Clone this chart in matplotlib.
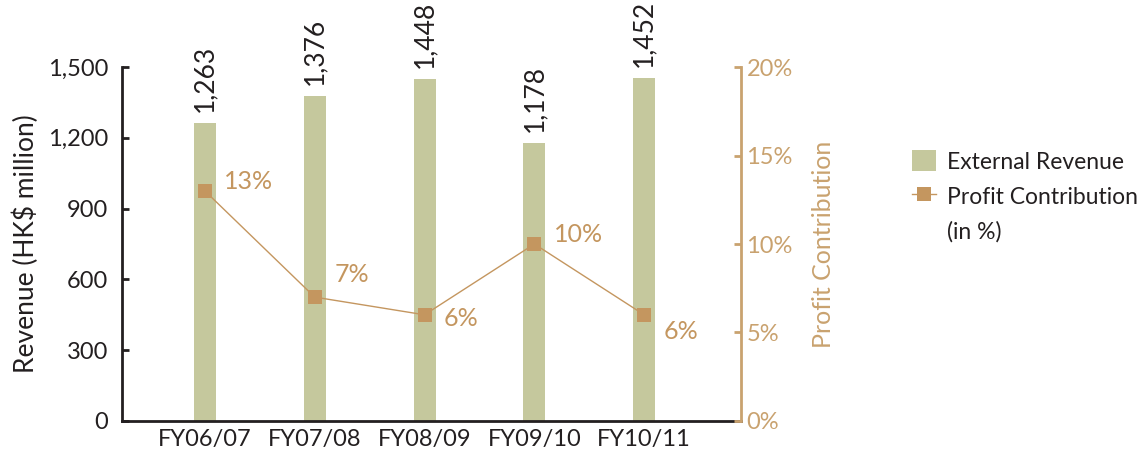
import matplotlib.pyplot as plt
from matplotlib.lines import Line2D
from matplotlib.ticker import FuncFormatter

plt.rcParams['font.family'] = ['Lato', 'DejaVu Sans']

years = ["FY06/07", "FY07/08", "FY08/09", "FY09/10", "FY10/11"]
revenue = [1263, 1376, 1448, 1178, 1452]
profit_pct = [13, 7, 6, 10, 6]

# vertical nudge (points) for each percentage label
pct_dy = [7, 16, -3, 7, -12]

bar_color = "#c5c89d"
tan = "#c4965f"
axis_tan = "#c9a26f"
dark = "#231f20"

fig = plt.figure(figsize=(11.44, 4.59), dpi=100)
ax = fig.add_axes([0.1066, 0.0828, 0.541, 0.7712])
x = list(range(len(years)))

ax.bar(x, revenue, width=0.2, color=bar_color, zorder=1, label="External Revenue")
ax.set_xlim(-0.755, 4.88)
ax.set_ylim(0, 1500)
ax.set_yticks([0, 300, 600, 900, 1200, 1500])
ax.yaxis.set_major_formatter(FuncFormatter(lambda v, p: f"{int(v):,}"))
ax.set_xticks(x)
ax.set_xticklabels(years)
ax.tick_params(axis='x', length=0, labelsize=17, colors=dark, pad=6)
ax.tick_params(axis='y', direction='in', length=5, width=2, labelsize=17, colors=dark, pad=10)
ax.spines['top'].set_visible(False)
ax.spines['right'].set_visible(False)
for s in ['left', 'bottom']:
    ax.spines[s].set_linewidth(2)
    ax.spines[s].set_color(dark)
ax.set_ylabel("Revenue (HK$ million)", fontsize=19, color=dark, labelpad=6)

for xi, v in zip(x, revenue):
    ax.annotate(f"{v:,}", (xi, v), xytext=(0, 8), textcoords='offset points',
                rotation=90, ha='center', va='bottom', fontsize=19, color=dark)

ax2 = ax.twinx()
ax2.plot(x, profit_pct, color=tan, lw=1, marker='s', markersize=10,
         markeredgewidth=0, zorder=3, label="Profit Contribution")
ax2.set_ylim(0, 20)
ax2.set_yticks([0, 5, 10, 15, 20])
ax2.yaxis.set_major_formatter(FuncFormatter(lambda v, p: f"{int(v)}%"))
ax2.tick_params(axis='y', direction='in', length=5, width=2, labelsize=17,
                colors=axis_tan, pad=4)
for s in ['top', 'left', 'bottom']:
    ax2.spines[s].set_visible(False)
ax2.spines['right'].set_linewidth(2)
ax2.spines['right'].set_color(axis_tan)
ax2.set_ylabel("Profit Contribution", fontsize=18, color=axis_tan, labelpad=14)

for xi, v, dy in zip(x, profit_pct, pct_dy):
    ax2.annotate(f"{v}%", (xi, v), xytext=(14, dy), textcoords='offset points',
                 ha='left', va='center', fontsize=18, color=tan)

h1, l1 = ax.get_legend_handles_labels()
h2, l2 = ax2.get_legend_handles_labels()
# second line of the profit label, with no symbol of its own
blank = Line2D([], [], linestyle='none', marker=None)
leg = fig.legend(h1 + h2 + [blank], l1 + l2 + ["(in %)"], loc='upper left',
                 bbox_to_anchor=(0.797, 0.673), frameon=False, fontsize=16.5,
                 handlelength=1.05, handleheight=1.05, handletextpad=0.5,
                 labelspacing=0.55, borderpad=0, borderaxespad=0, labelcolor=dark)

fig.savefig("out.png", dpi=100)
